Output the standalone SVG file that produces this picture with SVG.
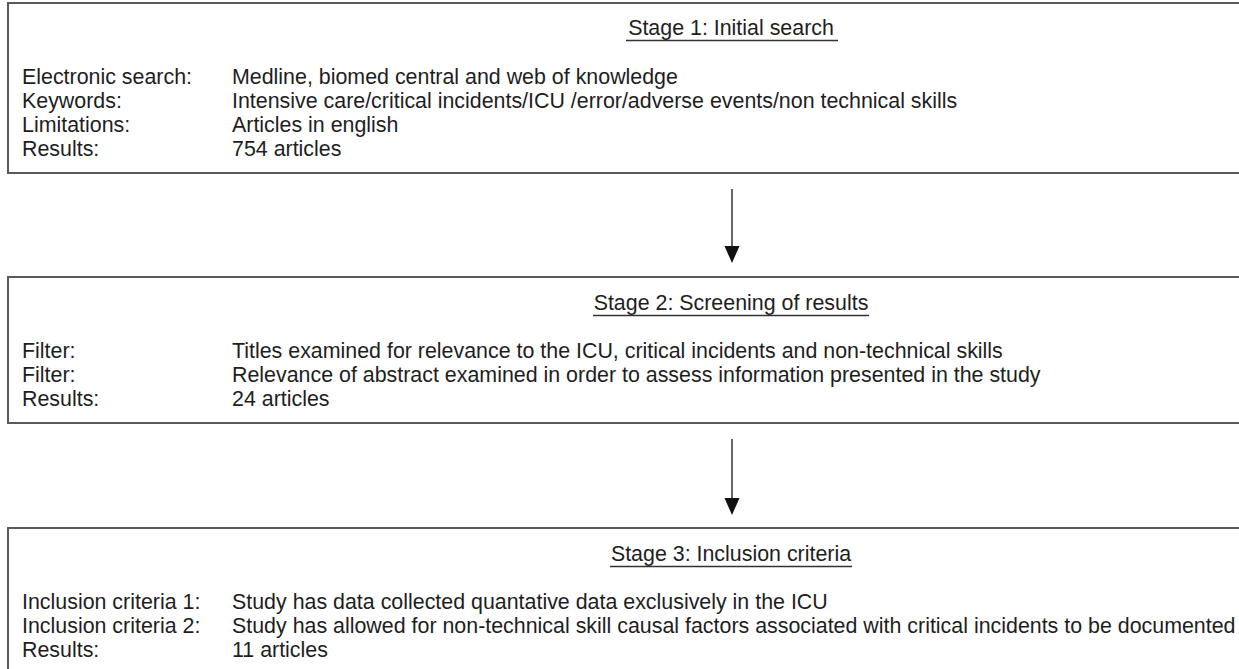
<svg xmlns="http://www.w3.org/2000/svg" width="1239" height="669" viewBox="0 0 1239 669">
<style>
.box{fill:#fff;stroke:#5a5a5a;stroke-width:2}
text{font-family:"Liberation Sans",Arial,sans-serif;font-size:21.4px;fill:#1e1e1e}
.title{text-anchor:middle}
.ul{stroke:#333;stroke-width:1.6}
.conn{stroke:#333;stroke-width:1.5;fill:none}
.head{fill:#111}
</style>
<rect width="1239" height="669" fill="#fff"/>
<g id="stage1">
<rect class="box" x="8" y="3" width="1240" height="170"/>
<text class="title" x="731" y="35">Stage 1: Initial search</text>
<line class="ul" x1="626" y1="40.5" x2="838" y2="40.5"/>
<text x="22" y="84">Electronic search:</text>
<text x="232" y="84">Medline, biomed central and web of knowledge</text>
<text x="22" y="108">Keywords:</text>
<text x="232" y="108">Intensive care/critical incidents/ICU /error/adverse events/non technical skills</text>
<text x="22" y="132">Limitations:</text>
<text x="232" y="132">Articles in english</text>
<text x="22" y="156">Results:</text>
<text x="232" y="156">754 articles</text>
</g>
<g id="stage2">
<rect class="box" x="8" y="277" width="1240" height="146"/>
<text class="title" x="731" y="310">Stage 2: Screening of results</text>
<line class="ul" x1="593" y1="315.5" x2="869" y2="315.5"/>
<text x="22" y="358">Filter:</text>
<text x="232" y="358">Titles examined for relevance to the ICU, critical incidents and non-technical skills</text>
<text x="22" y="382">Filter:</text>
<text x="232" y="382">Relevance of abstract examined in order to assess information presented in the study</text>
<text x="22" y="406">Results:</text>
<text x="232" y="406">24 articles</text>
</g>
<g id="stage3">
<rect class="box" x="8" y="528" width="1240" height="150"/>
<text class="title" x="731" y="561">Stage 3: Inclusion criteria</text>
<line class="ul" x1="610" y1="566.5" x2="852" y2="566.5"/>
<text x="22" y="609">Inclusion criteria 1:</text>
<text x="232" y="609">Study has data collected quantative data exclusively in the ICU</text>
<text x="22" y="633">Inclusion criteria 2:</text>
<text x="232" y="633">Study has allowed for non-technical skill causal factors associated with critical incidents to be documented</text>
<text x="22" y="657">Results:</text>
<text x="232" y="657">11 articles</text>
</g>
<g id="connectors">
<line class="conn" x1="732" y1="189" x2="732" y2="248"/>
<path class="head" d="M724.5,246 L739.5,246 L732,263 Z"/>
<line class="conn" x1="732" y1="439" x2="732" y2="500"/>
<path class="head" d="M724.5,498 L739.5,498 L732,515 Z"/>
</g>
</svg>
